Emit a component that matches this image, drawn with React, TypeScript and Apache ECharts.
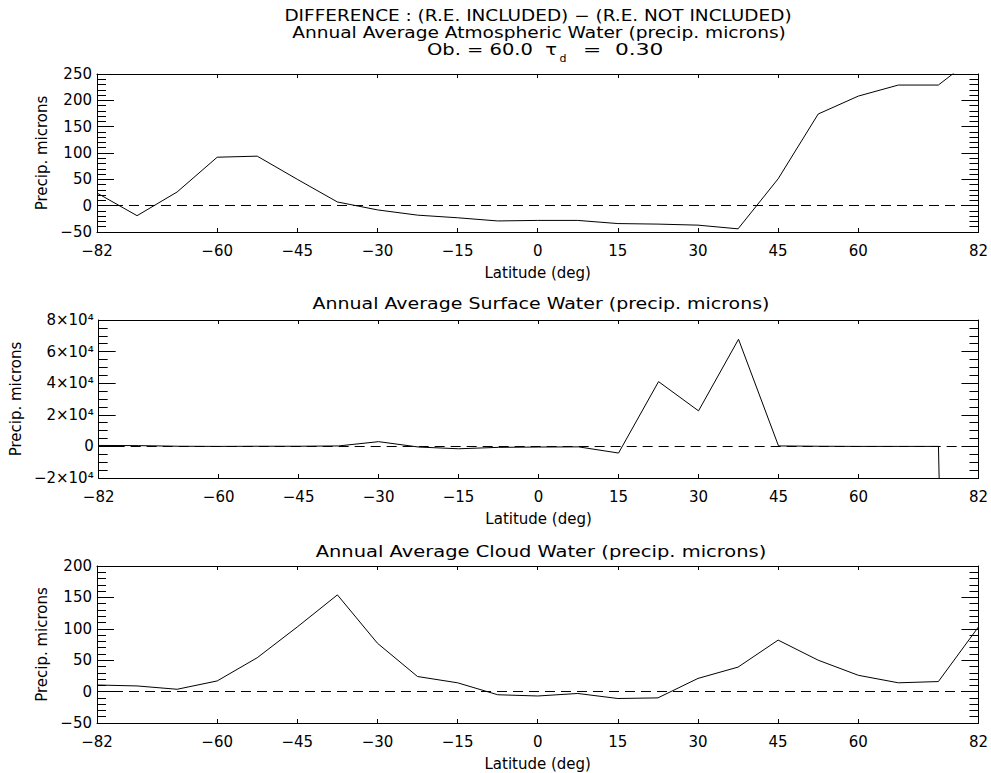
import React, { useEffect, useRef } from 'react';
import * as echarts from 'echarts';

// Latitude grid (deg)
const latitudes = [-82.5, -75, -67.5, -60, -52.5, -45, -37.5, -30, -22.5, -15, -7.5, 0, 7.5, 15, 22.5, 30, 37.5, 45, 52.5, 60, 67.5, 75, 82.5];

// Differences (precip. microns)
const atmosphericWater = [24, -19, 26, 92, 94, 50, 7, -8, -18, -23, -29, -28, -28, -34, -35, -37, -44, 51, 174, 208, 229, 229, 288];
const surfaceWater = [600, 500, 100, 0, 100, 100, 300, 3000, -400, -1500, -600, -400, -300, -4200, 41000, 22500, 67800, 300, 100, 0, 0, 0, -1200000];
const cloudWater = [10.5, 9, 3.7, 17, 54, 103, 154, 77, 24, 14, -5, -7, -3, -11, -10, 21, 39, 82, 50, 26, 14, 16, 103];

// Axis ticks / labels
const xTickValues = [-60, -45, -30, -15, 0, 15, 30, 45, 60];
const xLabelValues = [-82.5, -60, -45, -30, -15, 0, 15, 30, 45, 60, 82.5];
const xLabelTexts = ['\u221282', '\u221260', '\u221245', '\u221230', '\u221215', '0', '15', '30', '45', '60', '82'];

const mainTitle = 'DIFFERENCE : (R.E. INCLUDED) \u2212 (R.E. NOT INCLUDED)';
const paramLeft = 'Ob. = 60.0  \u03c4';
const paramSub = 'd';
const paramRight = '=  0.30';
const panelTitles = [
  'Annual Average Atmospheric Water (precip. microns)',
  'Annual Average Surface Water (precip. microns)',
  'Annual Average Cloud Water (precip. microns)',
];
const xName = 'Latitude (deg)';
const yName = 'Precip. microns';

const FONT = 'DejaVu Sans';
const BLACK = '#000';

const fmtPlain = (v: number) => (v < 0 ? '\u2212' + Math.abs(v) : String(v));
const fmtSci = (v: number) => {
  if (v === 0) return '0';
  return (v < 0 ? '\u2212' : '') + Math.abs(v / 10000) + '\u00d710\u2074';
};

const grids = [
  { left: 97, right: 11, top: 74, height: 158 },
  { left: 97, right: 11, top: 320, height: 158 },
  { left: 97, right: 11, top: 566, height: 157 },
];

const panels = [
  { data: atmosphericWater, min: -50, max: 250, interval: 50, minor: 5, fmt: fmtPlain, nameGap: 47 },
  { data: surfaceWater, min: -20000, max: 80000, interval: 20000, minor: 4, fmt: fmtSci, nameGap: 73 },
  { data: cloudWater, min: -50, max: 200, interval: 50, minor: 5, fmt: fmtPlain, nameGap: 47 },
];

function buildOption() {
  const xAxis: any[] = [];
  const yAxis: any[] = [];
  const series: any[] = [];
  panels.forEach((p, i) => {
    const axisLine = { show: true, onZero: false, lineStyle: { color: BLACK, width: 1 } };
    xAxis.push({
      type: 'value', gridIndex: i, min: -82.5, max: 82.5, position: 'bottom',
      axisLine,
      axisTick: { show: true, inside: true, length: 4, customValues: xTickValues, lineStyle: { color: BLACK } },
      axisLabel: {
        show: true, customValues: xLabelValues, margin: 11, color: BLACK, fontSize: 15, fontFamily: FONT,
        formatter: (v: number) => { const k = xLabelValues.indexOf(v); return k >= 0 ? xLabelTexts[k] : ''; },
      },
      splitLine: { show: false },
      name: xName, nameLocation: 'middle', nameGap: 33,
      nameTextStyle: { color: BLACK, fontSize: 15, fontFamily: FONT },
    });
    xAxis.push({
      type: 'value', gridIndex: i, min: -82.5, max: 82.5, position: 'top',
      axisLine,
      axisTick: { show: true, inside: true, length: 4, customValues: xTickValues, lineStyle: { color: BLACK } },
      axisLabel: { show: false },
      splitLine: { show: false },
    });
    yAxis.push({
      type: 'value', gridIndex: i, min: p.min, max: p.max, interval: p.interval, position: 'left',
      axisLine,
      axisTick: { show: true, inside: true, length: 17, lineStyle: { color: BLACK } },
      minorTick: { show: true, splitNumber: p.minor, length: 9, lineStyle: { color: BLACK } },
      axisLabel: { show: true, margin: 5, color: BLACK, fontSize: 15, fontFamily: FONT, formatter: p.fmt },
      splitLine: { show: false },
      name: yName, nameLocation: 'middle', nameGap: p.nameGap, nameRotate: 90,
      nameTextStyle: { color: BLACK, fontSize: 15, fontFamily: FONT },
    });
    yAxis.push({
      type: 'value', gridIndex: i, min: p.min, max: p.max, interval: p.interval, position: 'right',
      axisLine,
      axisTick: { show: true, inside: true, length: 17, lineStyle: { color: BLACK } },
      minorTick: { show: true, splitNumber: p.minor, length: 9, lineStyle: { color: BLACK } },
      axisLabel: { show: false },
      splitLine: { show: false },
    });
    series.push({
      type: 'line', xAxisIndex: i * 2, yAxisIndex: i * 2,
      data: latitudes.map((lat, j) => [lat, p.data[j]]),
      symbol: 'none', clip: true,
      lineStyle: { color: BLACK, width: 1 },
      markLine: {
        silent: true, symbol: 'none', label: { show: false },
        lineStyle: { color: BLACK, width: 1, type: [10, 6] },
        data: [{ yAxis: 0 }],
      },
    });
  });

  const ts = { fill: BLACK, fontSize: 15, fontFamily: FONT, verticalAlign: 'middle' };
  const graphic: any[] = [
    { type: 'text', x: 538, y: 16, scaleX: 1.23, style: { ...ts, align: 'center', text: mainTitle } },
    { type: 'text', x: 539, y: 33, scaleX: 1.24, style: { ...ts, align: 'center', text: panelTitles[0] } },
    { type: 'text', x: 557, y: 50, scaleX: 1.3, style: { ...ts, align: 'right', text: paramLeft } },
    { type: 'text', x: 563, y: 58, style: { ...ts, fontSize: 11, align: 'center', text: paramSub } },
    { type: 'text', x: 583, y: 50, scaleX: 1.45, style: { ...ts, align: 'left', text: paramRight } },
    { type: 'text', x: 541, y: 304, scaleX: 1.265, style: { ...ts, align: 'center', text: panelTitles[1] } },
    { type: 'text', x: 541, y: 552, scaleX: 1.3, style: { ...ts, align: 'center', text: panelTitles[2] } },
  ];

  return {
    animation: false,
    backgroundColor: '#fff',
    grid: grids,
    xAxis,
    yAxis,
    series,
    graphic,
  };
}

export default function App() {
  const ref = useRef<HTMLDivElement>(null);
  useEffect(() => {
    const chart = echarts.init(ref.current!, null, { renderer: 'svg' });
    chart.setOption(buildOption() as any);
    return () => chart.dispose();
  }, []);
  return (
    <div
      ref={ref}
      style={{ position: 'absolute', left: 0, top: 0, width: 991, height: 773, background: '#fff' }}
    />
  );
}
